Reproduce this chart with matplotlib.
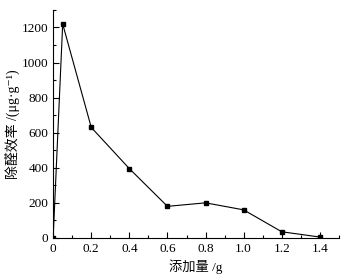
import matplotlib
matplotlib.use("Agg")
import matplotlib.pyplot as plt
from matplotlib.ticker import MultipleLocator

# data
dose = [0, 0.05, 0.2, 0.4, 0.6, 0.8, 1.0, 1.2, 1.4]
removal = [0, 1220, 630, 395, 180, 200, 160, 35, 5]
x_ticks = [0, 0.2, 0.4, 0.6, 0.8, 1.0, 1.2, 1.4]
x_labels = ["0", "0.2", "0.4", "0.6", "0.8", "1.0", "1.2", "1.4"]
y_ticks = [0, 200, 400, 600, 800, 1000, 1200]

fonts = ['Liberation Serif', 'Noto Sans CJK SC', 'DejaVu Sans']
plt.rcParams['font.family'] = fonts

fig = plt.figure(figsize=(3.43, 2.76), dpi=100)
ax = fig.add_axes([0.155, 0.138, 0.833, 0.826])

ax.plot(dose, removal, color='black', lw=0.8, marker='s', ms=3.5,
        mfc='black', mec='black')

ax.set_xlim(0, 1.5)
ax.set_ylim(0, 1300)
ax.set_xticks(x_ticks)
ax.set_xticklabels(x_labels)
ax.set_yticks(y_ticks)
ax.xaxis.set_minor_locator(MultipleLocator(0.1))
ax.yaxis.set_minor_locator(MultipleLocator(100))
ax.tick_params(which='both', direction='in', labelsize=9.5, width=0.8)
ax.tick_params(which='major', length=4)
ax.tick_params(which='minor', length=2)

for side in ('top', 'right'):
    ax.spines[side].set_visible(False)
for side in ('left', 'bottom'):
    ax.spines[side].set_linewidth(0.8)

ax.set_xlabel("添加量 /g", fontsize=9.5, labelpad=3, family=fonts)
ax.set_ylabel("除醛效率 /(μg·g⁻¹)", fontsize=10, labelpad=1, family=fonts)

fig.savefig("out.png", dpi=100)
